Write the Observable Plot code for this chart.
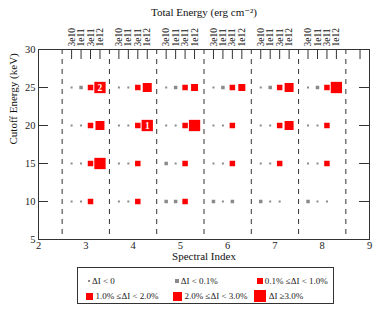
<!DOCTYPE html>
<html><head><meta charset="utf-8">
<script src="https://cdn.jsdelivr.net/npm/d3@7"></script>
<script src="https://cdn.jsdelivr.net/npm/@observablehq/plot@0.6"></script>
<style>
body{margin:0;background:#fff;font-family:'Liberation Serif','Times New Roman',Times,'DejaVu Serif',serif;}
#wrap{position:relative;width:389px;height:311px;overflow:hidden;}
#chart{position:absolute;left:0;top:0;}
#legend{position:absolute;left:77px;top:267px;width:257px;height:37px;border:1px solid #333;box-sizing:border-box;font-size:9px;color:#222;}
.item{position:absolute;display:flex;align-items:center;white-space:nowrap;height:12px;}
.mk{display:inline-block;flex:none;}
svg text{font-family:'Liberation Serif','Times New Roman',Times,'DejaVu Serif',serif;}
</style></head>
<body><div id="wrap"><div id="chart"></div><div id="legend"></div></div>
<script>
// ---- data ----
const spectralIndex = [3, 4, 5, 6, 7, 8];
const energyLabels = ["3e10", "1e11", "3e11", "1e12"];
const cutoffEnergy = [25, 20, 15, 10];
// category of ΔI per spectral index: rows = cutoff 25,20,15,10 ; cols = energy 3e10,1e11,3e11,1e12 ; -1 = no run
const catIndex3 = [[0, 1, 2, 5], [0, 0, 2, 4], [0, 0, 2, 5], [0, 0, 2, -1]];
const catIndex4 = [[0, 0, 2, 4], [0, 0, 2, 5], [0, 0, 2, -1], [0, 0, 2, -1]];
const catIndex5 = [[0, 1, 2, 3], [0, 0, 2, 5], [1, 0, 2, -1], [1, 1, 2, -1]];
const catIndex6 = [[0, 1, 2, 3], [0, 0, 2, -1], [0, 0, 2, -1], [1, 0, 1, -1]];
const catIndex7 = [[0, 1, 2, 4], [0, 0, 2, 4], [0, 0, 2, -1], [1, 0, 0, -1]];
const catIndex8 = [[0, 1, 2, 5], [0, 0, 2, -1], [0, 0, 2, -1], [1, 0, 0, -1]];
const categoryLabels = ["ΔI < 0", "ΔI < 0.1%", "0.1% ≤ΔI < 1.0%", "1.0% ≤ΔI < 2.0%", "2.0% ≤ΔI < 3.0%", "ΔI ≥3.0%"];
const annotationIndex = [3, 4];
const annotationEnergy = ["1e12", "1e12"];
const annotationCutoff = [25, 20];
const annotationText = ["2", "1"];
const xTicks = [2, 3, 4, 5, 6, 7, 8, 9];
const yTicks = [5, 10, 15, 20, 25, 30];
const groupBoundaries = [2.5, 3.5, 4.5, 5.5, 6.5, 7.5, 8.5];
const extraTopTicks = [8.8];
const xLabel = "Spectral Index";
const yLabel = "Cutoff Energy (keV)";
const topLabel = "Total Energy (erg cm⁻²)";

// ---- styles ----
const markerSide = [2, 3.5, 5.5, 7, 9, 11.3];
const markerColor = ["#8a8a8a", "#8a8a8a", "#ff0000", "#ff0000", "#ff0000", "#ff0000"];
const energyOffset = [-0.3, -0.1, 0.1, 0.3];
const FONT = "'Liberation Serif', 'Times New Roman', Times, 'DejaVu Serif', serif";

// ---- build ----
const grids = [catIndex3, catIndex4, catIndex5, catIndex6, catIndex7, catIndex8];
const points = [];
spectralIndex.forEach((si, gi) => {
  cutoffEnergy.forEach((ce, ri) => {
    energyLabels.forEach((el, ei) => {
      const c = grids[gi][ri][ei];
      if (c >= 0) points.push({x: si + energyOffset[ei], y: ce, cat: c});
    });
  });
});
const topTicks = [];
spectralIndex.forEach(si => energyLabels.forEach((el, ei) => topTicks.push({x: si + energyOffset[ei], label: el})));
const topLabelMap = new Map(topTicks.map(d => [d.x, d.label]));
const annotations = annotationText.map((t, i) => ({
  x: annotationIndex[i] + energyOffset[energyLabels.indexOf(annotationEnergy[i])],
  y: annotationCutoff[i], text: t
}));

const W = 389, H = 265, mL = 38, mR = 20, mT = 49, mB = 26;
const fW = W - mL - mR, fH = H - mT - mB;
const ink = "#333";

const marks = [
  Plot.ruleX(groupBoundaries, {x: d => d, stroke: ink, strokeDasharray: "5,5", strokeWidth: 1}),
  Plot.tickX(topTicks.map(d => d.x).concat(extraTopTicks), {x: d => d, stroke: ink, insetBottom: fH - 10}),
  Plot.tickY(yTicks, {y: d => d, stroke: ink, insetRight: fW - 10}),
  Plot.tickY(yTicks, {y: d => d, stroke: ink, insetLeft: fW - 10}),
  Plot.frame({stroke: ink}),
  ...markerSide.map((s, c) => Plot.dot(points.filter(p => p.cat === c), {
    x: "x", y: "y", symbol: "square", r: s / Math.sqrt(Math.PI), fill: markerColor[c], stroke: "none"
  })),
  Plot.text(annotations, {x: "x", y: "y", text: "text", fill: "white", fontWeight: "bold", fontSize: 9.5, fontFamily: FONT}),
  Plot.axisX(xTicks, {anchor: "bottom", tickSize: 0, tickPadding: 2, label: null, fontSize: 10.5, fontFamily: FONT}),
  Plot.axisX(topTicks.map(d => d.x), {anchor: "top", tickSize: 0, tickPadding: 3, tickRotate: -90, tickFormat: d => topLabelMap.get(d), label: null, fontSize: 9.5, fill: "#111", fontFamily: FONT}),
  Plot.axisY(yTicks, {anchor: "left", tickSize: 0, tickPadding: 3, label: null, fontSize: 10.5, fontFamily: FONT}),
  Plot.text([xLabel], {frameAnchor: "bottom", text: d => d, dy: 20, fontSize: 11, fill: "#111", fontFamily: FONT}),
  Plot.text([topLabel], {frameAnchor: "top", text: d => d, dy: -41, fontSize: 11, fill: "#111", fontFamily: FONT}),
  Plot.text([yLabel], {frameAnchor: "left", text: d => d, dx: -25, rotate: -90, fontSize: 11, fill: "#111", fontFamily: FONT})
];

const chart = Plot.plot({
  width: W, height: H,
  marginLeft: mL, marginRight: mR, marginTop: mT, marginBottom: mB,
  x: {domain: [2, 9]},
  y: {domain: [5, 30]},
  style: {fontFamily: FONT, fontSize: "10px", color: "#222", background: "white"},
  marks
});
document.getElementById("chart").appendChild(chart);

// ---- legend ----
const legendPos = [[12, 14], [100, 14], [183, 14], [12, 29], [100, 29], [183, 29]];
const legend = document.getElementById("legend");
categoryLabels.forEach((lab, c) => {
  const s = markerSide[c];
  const [cx, cy] = legendPos[c];
  const it = document.createElement("div");
  it.className = "item";
  it.style.left = (cx - s / 2 - 1) + "px";
  it.style.top = (cy - 6 - 1) + "px";
  const mk = document.createElement("span");
  mk.className = "mk";
  mk.style.width = s + "px"; mk.style.height = s + "px";
  mk.style.background = markerColor[c];
  mk.style.marginRight = (s < 6 ? 2 : 3) + "px";
  it.appendChild(mk);
  const tx = document.createElement("span");
  tx.textContent = lab;
  it.appendChild(tx);
  legend.appendChild(it);
});
</script></body></html>
